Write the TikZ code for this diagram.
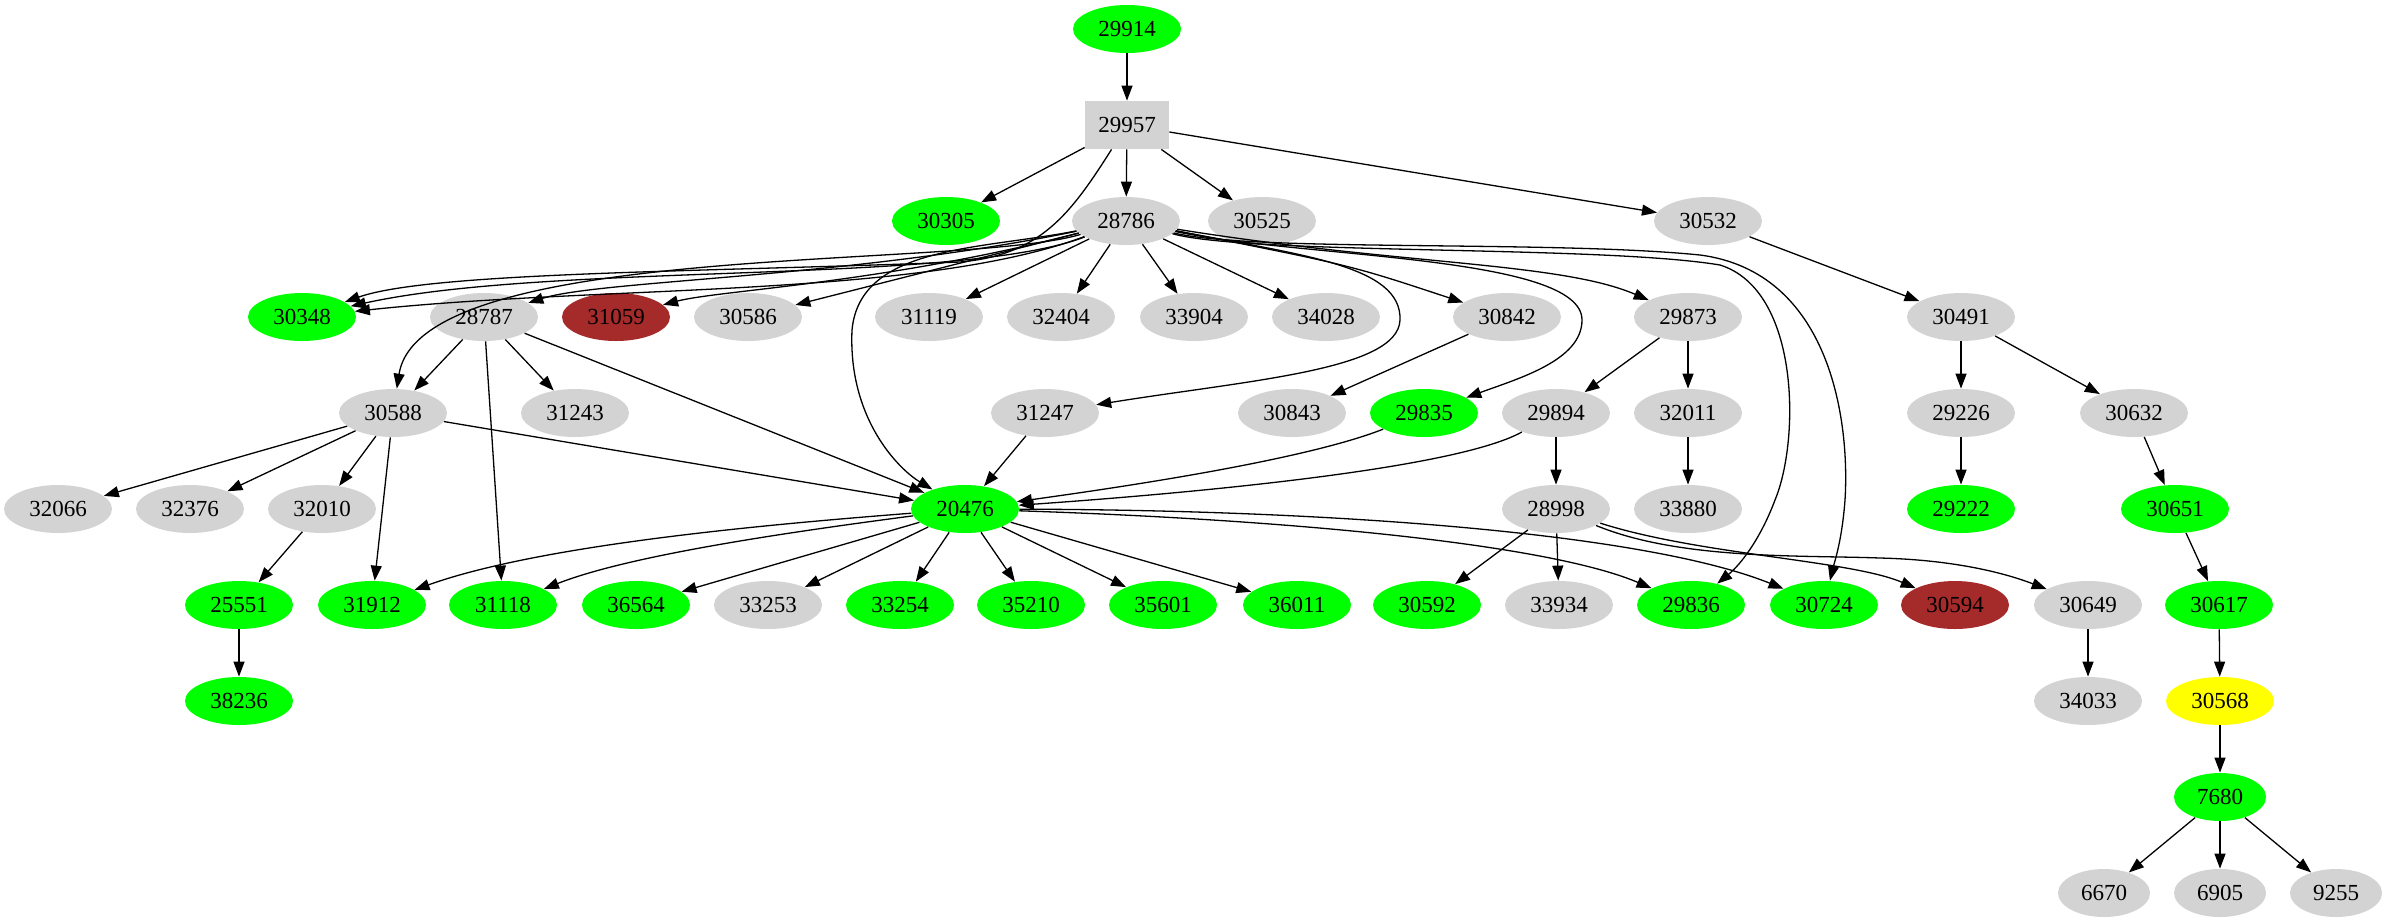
\documentclass[tikz,border=0pt]{standalone}
\usepackage{fontspec}
\setmainfont{Liberation Serif}
\usetikzlibrary{shapes.geometric,arrows.meta}
\definecolor{gvgreen}{HTML}{00FF00}
\definecolor{gvgray}{HTML}{D3D3D3}
\definecolor{gvbrown}{HTML}{A52A2A}
\definecolor{gvyellow}{HTML}{FFFF00}
\tikzset{
  nd/.style={ellipse, minimum width=54pt, minimum height=24pt, inner sep=0pt, font=\fontsize{11.5}{13}\selectfont},
  sm/.style={minimum width=46pt},
  gn/.style={nd, fill=gvgreen},
  gy/.style={nd, fill=gvgray},
  br/.style={nd, fill=gvbrown},
  yl/.style={nd, fill=gvyellow},
  bx/.style={rectangle, fill=gvgray, minimum width=42pt, minimum height=24pt, inner sep=0pt, font=\fontsize{11.5}{13}\selectfont},
  e/.style={-{Triangle[length=7.5pt,width=5.5pt]}, line width=0.65pt}
}
\begin{document}
\begin{tikzpicture}[x=0.5pt,y=-0.5pt]
\useasboundingbox (0,0) rectangle (2388,923);
% rank 0,1
\node[gn] (n29914) at (1127,29) {29914};
\node[bx] (n29957) at (1127,125) {29957};
% rank 2
\node[gn] (n30305) at (946,221) {30305};
\node[gy] (n28786) at (1126,221) {28786};
\node[gy] (n30525) at (1262,221) {30525};
\node[gy] (n30532) at (1708,221) {30532};
% rank 3
\node[gn] (n30348) at (302,317) {30348};
\node[gy] (n28787) at (484,317) {28787};
\node[br] (n31059) at (616,317) {31059};
\node[gy] (n30586) at (748,317) {30586};
\node[gy] (n31119) at (929,317) {31119};
\node[gy] (n32404) at (1061,317) {32404};
\node[gy] (n33904) at (1194,317) {33904};
\node[gy] (n34028) at (1326,317) {34028};
\node[gy] (n30842) at (1507,317) {30842};
\node[gy] (n29873) at (1688,317) {29873};
\node[gy] (n30491) at (1961,317) {30491};
% rank 4
\node[gy] (n30588) at (393,413) {30588};
\node[gy] (n31243) at (575,413) {31243};
\node[gy] (n31247) at (1045,413) {31247};
\node[gy] (n30843) at (1292,413) {30843};
\node[gn] (n29835) at (1424,413) {29835};
\node[gy] (n29894) at (1556,413) {29894};
\node[gy] (n32011) at (1688,413) {32011};
\node[gy] (n29226) at (1961,413) {29226};
\node[gy] (n30632) at (2134,413) {30632};
% rank 5
\node[gy] (n32066) at (58,509) {32066};
\node[gy] (n32376) at (190,509) {32376};
\node[gy] (n32010) at (322,509) {32010};
\node[gn] (n20476) at (965,509) {20476};
\node[gy] (n28998) at (1556,509) {28998};
\node[gy] (n33880) at (1688,509) {33880};
\node[gn] (n29222) at (1961,509) {29222};
\node[gn] (n30651) at (2175,509) {30651};
% rank 6
\node[gn] (n25551) at (239,605) {25551};
\node[gn] (n31912) at (372,605) {31912};
\node[gn] (n31118) at (503,605) {31118};
\node[gn] (n36564) at (636,605) {36564};
\node[gy] (n33253) at (768,605) {33253};
\node[gn] (n33254) at (900,605) {33254};
\node[gn] (n35210) at (1031,605) {35210};
\node[gn] (n35601) at (1163,605) {35601};
\node[gn] (n36011) at (1297,605) {36011};
\node[gn] (n30592) at (1427,605) {30592};
\node[gy] (n33934) at (1559,605) {33934};
\node[gn] (n29836) at (1691,605) {29836};
\node[gn] (n30724) at (1824,605) {30724};
\node[br] (n30594) at (1955,605) {30594};
\node[gy] (n30649) at (2088,605) {30649};
\node[gn] (n30617) at (2219,605) {30617};
% rank 7
\node[gn] (n38236) at (239,701) {38236};
\node[gy] (n34033) at (2088,701) {34033};
\node[yl] (n30568) at (2220,701) {30568};
% rank 8,9
\node[gn,sm] (n7680) at (2220,797) {7680};
\node[gy,sm] (n6670) at (2104,893) {6670};
\node[gy,sm] (n6905) at (2220,893) {6905};
\node[gy,sm] (n9255) at (2336,893) {9255};

% edges from top
\draw[e] (n29914) -- (n29957);
\draw[e] (n29957) -- (n30305);
\draw[e] (n29957) -- (n28786);
\draw[e] (n29957) -- (n30525);
\draw[e] (n29957) -- (n30532);
\draw[e] (n29957) .. controls (1070,215) and (1040,255) .. (960,262) .. controls (700,272) and (430,272) .. (n30348);
% from 28786 to the left
\draw[e] (n28786) .. controls (960,285) and (550,262) .. (n30348);
\draw[e] (n28786) .. controls (920,298) and (600,285) .. (n30348);
\draw[e] (n28786) .. controls (960,270) and (420,240) .. (n30588);
\draw[e] (n28786) .. controls (980,250) and (860,245) .. (852,330) .. controls (848,420) and (900,470) .. (n20476);
\draw[e] (n28786) .. controls (850,278) and (600,280) .. (n28787);
\draw[e] (n28786) .. controls (880,284) and (720,290) .. (n31059);
\draw[e] (n28786) -- (n30586);
\draw[e] (n28786) -- (n31119);
\draw[e] (n28786) -- (n32404);
\draw[e] (n28786) -- (n33904);
\draw[e] (n28786) -- (n34028);
% from 28786 to the right
\draw[e] (n28786) .. controls (1350,265) .. (n30842);
\draw[e] (n28786) .. controls (1400,265) and (1560,262) .. (n29873);
\draw[e] (n28786) .. controls (1300,255) and (1402,265) .. (1400,320) .. controls (1398,370) and (1250,380) .. (n31247);
\draw[e] (n28786) .. controls (1300,258) and (1582,255) .. (1582,320) .. controls (1582,360) and (1520,378) .. (n29835);
\draw[e] (n28786) .. controls (1250,255) and (1600,245) .. (1720,265) .. controls (1800,290) and (1800,440) .. (1775,500) .. controls (1760,540) and (1740,565) .. (n29836);
\draw[e] (n28786) .. controls (1250,252) and (1550,240) .. (1700,255) .. controls (1830,272) and (1850,420) .. (1845,500) .. controls (1842,540) and (1835,560) .. (n30724);
% right branch
\draw[e] (n30532) -- (n30491);
\draw[e] (n30491) -- (n29226);
\draw[e] (n30491) -- (n30632);
\draw[e] (n29226) -- (n29222);
\draw[e] (n30632) -- (n30651);
\draw[e] (n30651) -- (n30617);
\draw[e] (n30617) -- (n30568);
\draw[e] (n30568) -- (n7680);
\draw[e] (n7680) -- (n6670);
\draw[e] (n7680) -- (n6905);
\draw[e] (n7680) -- (n9255);
% 28787 and 30588
\draw[e] (n28787) -- (n30588);
\draw[e] (n28787) -- (n31243);
\draw[e] (n28787) -- (n20476);
\draw[e] (n28787) -- (n31118);
\draw[e] (n30588) -- (n32066);
\draw[e] (n30588) -- (n32376);
\draw[e] (n30588) -- (n32010);
\draw[e] (n30588) -- (n31912);
\draw[e] (n30588) -- (n20476);
\draw[e] (n32010) -- (n25551);
\draw[e] (n25551) -- (n38236);
% middle
\draw[e] (n31247) -- (n20476);
\draw[e] (n30842) -- (n30843);
\draw[e] (n29835) .. controls (1300,462) and (1100,490) .. (n20476);
\draw[e] (n29894) .. controls (1450,472) and (1150,496) .. (n20476);
\draw[e] (n29873) -- (n29894);
\draw[e] (n29873) -- (n32011);
\draw[e] (n32011) -- (n33880);
\draw[e] (n29894) -- (n28998);
% 28998
\draw[e] (n28998) -- (n30592);
\draw[e] (n28998) -- (n33934);
\draw[e] (n28998) .. controls (1700,555) and (1850,560) .. (n30594);
\draw[e] (n28998) .. controls (1680,560) and (1800,555) .. (1880,558) .. controls (1960,560) and (2010,575) .. (n30649);
\draw[e] (n30649) -- (n34033);
% 20476 outgoing
\draw[e] (n20476) .. controls (760,525) and (540,545) .. (n31912);
\draw[e] (n20476) .. controls (790,532) and (630,555) .. (n31118);
\draw[e] (n20476) -- (n36564);
\draw[e] (n20476) -- (n33253);
\draw[e] (n20476) -- (n33254);
\draw[e] (n20476) -- (n35210);
\draw[e] (n20476) -- (n35601);
\draw[e] (n20476) -- (n36011);
\draw[e] (n20476) .. controls (1300,520) and (1550,545) .. (n29836);
\draw[e] (n20476) .. controls (1350,510) and (1650,535) .. (n30724);
\end{tikzpicture}
\end{document}
